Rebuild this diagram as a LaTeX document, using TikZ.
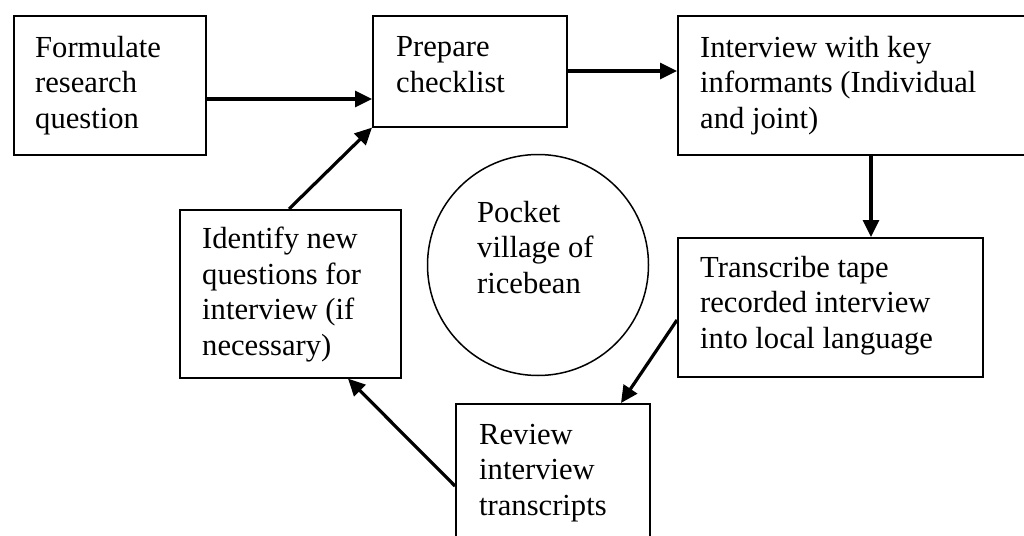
\documentclass[tikz,border=0pt]{standalone}
\usepackage{fontspec}
\setmainfont{Liberation Serif}
\usetikzlibrary{arrows.meta,calc}
\begin{document}
\begin{tikzpicture}[x=1pt,y=-1pt,
  box/.style={draw=black,line width=1.6pt,rectangle,inner sep=0pt,anchor=north west},
  ring/.style={draw=black,line width=1.5pt,circle,inner sep=0pt},
  txt/.style={anchor=base west,inner sep=0pt,align=left,font=\fontsize{30.6}{35.5}\selectfont},
  conn/.style={draw=black,line width=3.2pt,-{Triangle[length=17pt,width=16pt]}}]
\useasboundingbox (0,0) rectangle (1024,535);
\clip (0,0) rectangle (1024,535);
\fill[white] (0,0) rectangle (1024,535);
% boxes
\node[box,minimum width=192pt,minimum height=139pt] (b1) at (13,15) {};
\node[box,minimum width=194pt,minimum height=111pt] (b2) at (372,15) {};
\node[box,minimum width=363pt,minimum height=139pt] (b3) at (677,15) {};
\node[box,minimum width=305pt,minimum height=139pt] (b4) at (677,237) {};
\node[box,minimum width=194pt,minimum height=157pt] (b5) at (455,403) {};
\node[box,minimum width=221pt,minimum height=168pt] (b6) at (179,209) {};
\node[ring,minimum size=221pt] (c) at (538,265) {};
% texts (anchored at the baseline of the last line)
\node[txt] (t1) at (35,128) {Formulate\\research\\question};
\node[txt] (t2) at (396,92) {Prepare\\checklist};
\node[txt] (t3) at (700,128) {Interview with key\\informants (Individual\\and joint)};
\node[txt] (t4) at (700,348) {Transcribe tape\\recorded interview\\into local language};
\node[txt] (t5) at (479,515) {Review\\interview\\transcripts};
\node[txt] (t6) at (202,355) {Identify new\\questions for\\interview (if\\necessary)};
\node[txt] (tc) at (477,293) {Pocket\\village of\\ricebean};
% connectors
\draw[conn] (b1.east |- 0,99) -- (b2.west |- 0,99);
\draw[conn] (b2.east |- 0,71) -- (b3.west |- 0,71);
\draw[conn] (b3.south -| 871,0) -- (b4.north -| 871,0);
\draw[conn] (b4.west |- 0,320) -- (b5.north -| 621,0);
\draw[conn] (b5.west |- 0,486) -- (b6.south -| 348,0);
\draw[conn] (b6.north -| 289,0) -- (b2.south west);
\end{tikzpicture}
\end{document}
